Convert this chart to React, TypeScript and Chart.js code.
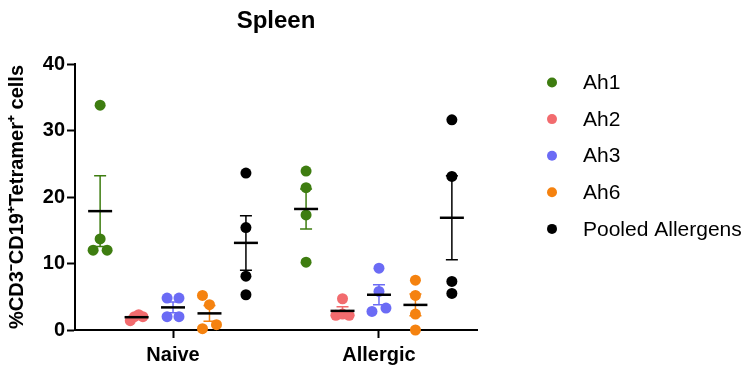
import { useEffect, useRef } from 'react';
import { Chart, registerables } from 'chart.js';

Chart.register(...registerables);

// ---- data ----
const TITLE = 'Spleen';
const CATEGORIES = ['Naive', 'Allergic'];
const SERIES = ['Ah1', 'Ah2', 'Ah3', 'Ah6', 'Pooled Allergens'];
const COLORS = ['#3e7d10', '#f26b6e', '#6b6bf5', '#f5820f', '#000000'];
const Y_TICKS = [0, 10, 20, 30, 40];
const Y_TITLE = '%CD3\u207BCD19\u207ATetramer\u207A cells';

// values per category: [Naive, Allergic]
const AH1 = [[33.8, 13.7, 12.0, 12.0], [23.9, 21.4, 17.3, 10.2]];
const AH2 = [[1.4, 2.0, 2.3, 2.0], [4.7, 2.2, 2.4, 2.2]];
const AH3 = [[4.8, 4.8, 2.0, 2.0], [9.3, 5.8, 3.3, 2.8]];
const AH6 = [[5.2, 3.8, 0.8, 0.2], [7.5, 5.2, 2.4, 0.0]];
const POOLED = [[23.6, 15.4, 8.1, 5.3], [31.6, 23.1, 7.3, 5.5]];
const VALUES = [AH1, AH2, AH3, AH6, POOLED];

// horizontal scatter spread of each point (in point-steps)
const AH1_SPREAD = [[0, 0, -1, 1], [0, 0, 0, 0]];
const AH2_SPREAD = [[-0.9, -0.3, 0.3, 0.9], [0, -0.95, 0, 0.95]];
const AH3_SPREAD = [[-0.85, 0.85, -0.85, 0.85], [0, 0, 1, -1]];
const AH6_SPREAD = [[-1, 0, 1, -1], [0, 0, 0, 0]];
const POOLED_SPREAD = [[0, 0, 0, 0], [0, 0, 0, 0]];
const SPREADS = [AH1_SPREAD, AH2_SPREAD, AH3_SPREAD, AH6_SPREAD, POOLED_SPREAD];

// ---- layout constants ----
const SERIES_STEP = 0.177;
const SPREAD_STEP = 0.034;
const FONT = "'Liberation Sans', Arial, Helvetica, sans-serif";

const groupX = (ci: number, si: number) => ci + 1 + (si - 2) * SERIES_STEP;

const stats = (arr: number[]) => {
  const n = arr.length;
  const mean = arr.reduce((a, b) => a + b, 0) / n;
  const sd = Math.sqrt(arr.reduce((a, b) => a + (b - mean) ** 2, 0) / (n - 1));
  return { mean, sem: sd / Math.sqrt(n) };
};

const errorBarPlugin = {
  id: 'errorBars',
  beforeDatasetsDraw(chart: any) {
    const { ctx, scales } = chart;
    const xs = scales.x;
    const ys = scales.y;
    ctx.save();
    VALUES.forEach((series, si) => {
      series.forEach((vals, ci) => {
        const { mean, sem } = stats(vals);
        const px = xs.getPixelForValue(groupX(ci, si));
        const top = ys.getPixelForValue(mean + sem);
        const bot = ys.getPixelForValue(Math.max(0, mean - sem));
        ctx.strokeStyle = COLORS[si];
        ctx.lineWidth = 1.5;
        ctx.beginPath();
        ctx.moveTo(px, top);
        ctx.lineTo(px, bot);
        ctx.moveTo(px - 6, top);
        ctx.lineTo(px + 6, top);
        ctx.moveTo(px - 6, bot);
        ctx.lineTo(px + 6, bot);
        ctx.stroke();
      });
    });
    ctx.restore();
  },
  afterDatasetsDraw(chart: any) {
    const { ctx, scales } = chart;
    const xs = scales.x;
    const ys = scales.y;
    ctx.save();
    VALUES.forEach((series, si) => {
      series.forEach((vals, ci) => {
        const { mean } = stats(vals);
        const px = xs.getPixelForValue(groupX(ci, si));
        const py = ys.getPixelForValue(mean);
        ctx.strokeStyle = '#000';
        ctx.lineWidth = 2.5;
        ctx.beginPath();
        ctx.moveTo(px - 12, py);
        ctx.lineTo(px + 12, py);
        ctx.stroke();
      });
    });
    ctx.restore();
  },
};

const decorPlugin = {
  id: 'decor',
  afterDraw(chart: any) {
    const { ctx, chartArea } = chart;
    ctx.save();
    // title
    ctx.fillStyle = '#000';
    ctx.font = `bold 24px ${FONT}`;
    ctx.textAlign = 'center';
    ctx.textBaseline = 'middle';
    ctx.fillText(TITLE, (chartArea.left + chartArea.right) / 2, 21);
    // legend
    ctx.font = `21px ${FONT}`;
    ctx.textAlign = 'left';
    SERIES.forEach((name, i) => {
      const y = 82.5 + i * 36.6;
      ctx.fillStyle = COLORS[i];
      ctx.beginPath();
      ctx.arc(552, y, 5, 0, Math.PI * 2);
      ctx.fill();
      ctx.fillStyle = '#000';
      ctx.fillText(name, 583, y + 1);
    });
    ctx.restore();
  },
};

export default function App() {
  const ref = useRef<HTMLCanvasElement>(null);
  useEffect(() => {
    document.body.style.margin = '0';
    const canvas = ref.current!;
    const datasets = SERIES.map((name, si) => ({
      label: name,
      data: CATEGORIES.flatMap((_, ci) =>
        VALUES[si][ci].map((v, i) => ({
          x: groupX(ci, si) + SPREADS[si][ci][i] * SPREAD_STEP,
          y: v,
        }))
      ),
      backgroundColor: COLORS[si],
      borderColor: COLORS[si],
      pointRadius: 5.5,
      pointBorderWidth: 0,
      showLine: false,
      clip: false as any,
    }));
    const chart = new Chart(canvas, {
      type: 'scatter',
      data: { datasets },
      options: {
        responsive: false,
        animation: false,
        devicePixelRatio: 1,
        layout: { padding: { left: 0, right: 267, top: 64, bottom: 0 } },
        plugins: {
          legend: { display: false },
          tooltip: { enabled: false },
          title: { display: false },
        },
        scales: {
          x: {
            type: 'linear',
            min: 0.524,
            max: 2.476,
            afterBuildTicks: (scale: any) => {
              scale.ticks = CATEGORIES.map((_, i) => ({ value: i + 1 }));
            },
            afterFit: (scale: any) => {
              scale.height = 38;
            },
            ticks: {
              callback: (v: any) => CATEGORIES[Math.round(Number(v)) - 1] ?? '',
              color: '#000',
              font: { family: FONT, size: 20, weight: 'bold' },
              padding: 5,
              autoSkip: false,
              maxRotation: 0,
            },
            grid: {
              display: true,
              drawOnChartArea: false,
              drawTicks: true,
              tickLength: 8,
              tickColor: '#000',
              tickWidth: 2,
              color: '#000',
            },
            border: { display: true, color: '#000', width: 2 },
          },
          y: {
            type: 'linear',
            min: Y_TICKS[0],
            max: Y_TICKS[Y_TICKS.length - 1],
            afterBuildTicks: (scale: any) => {
              scale.ticks = Y_TICKS.map((v) => ({ value: v }));
            },
            afterFit: (scale: any) => {
              scale.width = 75;
            },
            ticks: {
              color: '#000',
              font: { family: FONT, size: 20, weight: 'bold' },
              padding: 2,
            },
            title: {
              display: true,
              text: Y_TITLE,
              color: '#000',
              font: { family: FONT, size: 20, weight: 'bold' },
              padding: { top: 5, bottom: 0 },
            },
            grid: {
              display: true,
              drawOnChartArea: false,
              drawTicks: true,
              tickLength: 8,
              tickColor: '#000',
              tickWidth: 2,
              color: '#000',
            },
            border: { display: true, color: '#000', width: 2 },
          },
        },
      },
      plugins: [errorBarPlugin, decorPlugin],
    });
    return () => chart.destroy();
  }, []);
  return <canvas ref={ref} width={744} height={368} style={{ display: 'block' }} />;
}
